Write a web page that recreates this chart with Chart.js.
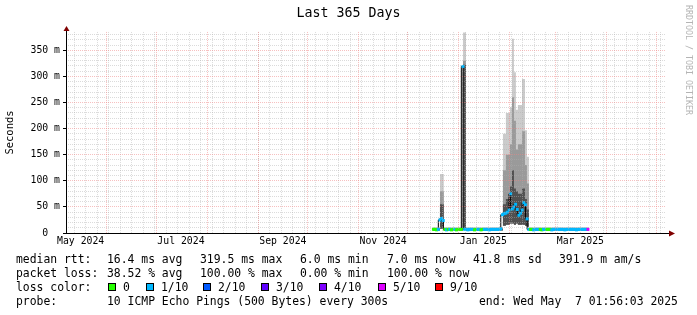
<!DOCTYPE html>
<html>
<head>
<meta charset="utf-8">
<script src="https://cdn.jsdelivr.net/npm/chart.js@4.4.1/dist/chart.umd.min.js"></script>
<style>
  html, body { margin: 0; padding: 0; background: #fff; }
  #wrap { position: relative; width: 697px; height: 315px; overflow: hidden; font-family: "DejaVu Sans Mono", monospace; }
  #wrap canvas { position: absolute; left: 0; top: 0; }
  .t { position: absolute; white-space: pre; font-size: 11.4px; line-height: 11.4px; color: #000; }
  .box { position: absolute; width: 6px; height: 6px; border: 1px solid #000; }
  #brand { position: absolute; left: 684px; top: 5px; writing-mode: vertical-rl; font-size: 8.3px; line-height: 10px; color: #b4b4b4; }
</style>
</head>
<body>
<div id="wrap">
  <canvas id="chart" width="697" height="315"></canvas>
  <div id="brand">RRDTOOL / TOBI OETIKER</div>
</div>
<script>
// time axis: 365 days ending Wed May 7 01:56:03 2025, x in days since start
const startMs = Date.UTC(2024, 4, 7, 1, 56, 3);
const spanDays = 365;
const dayOf = (y, m, d) => (Date.UTC(y, m, d) - startMs) / 864e5;

// median rtt, one value per day starting at dayStart (ms)
const dayStart = 223.5;
const medianMs = [
  7, 7, 6, 7,
  25, 28, 24,
  7, 6, 7, 7, 6, 7, 7, 6, 7, 7, 7,
  319,
  7, 7, 6, 7, 7, 7, 6, 7, 7, 7, 6, 7, 7, 7, 7, 6, 7, 7, 7, 7, 7, 7, 8,
  35, 37, 38, 40, 44, 75, 46, 50, 55, 45, 34, 38, 44, 58, 54, 27,
  7, 7, 7, 6, 7, 7, 7, 7, 6, 7, 7, 7, 7, 7, 6, 7, 7, 7, 7, 7,
  7, 7, 6, 7, 7, 7, 7, 7, 7, 6, 7, 7, 7, 7, 7, 7, 7
];
// packet loss per day, in tenths
const lossTenths = [
  0, 0, 0, 1,
  1, 1, 1,
  0, 1, 0, 1, 0, 0, 1, 0, 0, 0, 0,
  1,
  1, 1, 1, 1, 1, 1, 0, 0, 1, 1, 0, 0, 1, 1, 1, 1, 1, 1, 1, 1, 1, 1, 1,
  1, 1, 1, 1, 1, 1, 1, 1, 1, 1, 1, 1, 1, 1, 1, 1,
  1, 0, 0, 1, 1, 1, 1, 0, 0, 1, 1, 0, 0, 0, 1, 1, 1, 1, 1, 1,
  1, 1, 1, 1, 1, 1, 1, 1, 1, 1, 1, 1, 1, 1, 1, 1, 5
];

// smoke bands: value holds from smokeDays[i] until smokeDays[i + 1] (ms)
const smokeDays = [223.2, 227.5, 229.8, 241.5, 243.3, 265.8, 267.6, 270.1, 271.3, 272.5, 273.7, 274.9, 277.4, 279.2, 280.4, 281.6, 318.1];
const smokeMin  = [5,   8,   5,   8,   5,  14,  16,  18,  18,  16,  18,  16,  16,  14,  12,   5];
const smokeDark = [8,  55,   8, 322,   8,  55,  65,  90, 120,  85,  80,  75,  85,  65,  45,   8];
const smokeMid  = [9,  80,   9, 330,   9, 120, 150, 170, 260, 215, 160, 170, 195, 130,  95,   9];
const smokeMax  = [11, 113, 11, 384,  11, 190, 230, 241, 372, 308, 236, 245, 295, 197, 146,  11];

const lossSteps  = [0, 1, 2, 3, 4, 5, 9];
const lossLabels = ['0', '1/10', '2/10', '3/10', '4/10', '5/10', '9/10'];
const lossColors = ['#26ff00', '#00b8ff', '#0059ff', '#5e00ff', '#7e00ff', '#dd00ff', '#ff0000'];

const monthLabels = ['May 2024', 'Jul 2024', 'Sep 2024', 'Nov 2024', 'Jan 2025', 'Mar 2025'];
const monthLabelDays = [dayOf(2024, 4, 16), dayOf(2024, 6, 16), dayOf(2024, 8, 16), dayOf(2024, 10, 16), dayOf(2025, 0, 16), dayOf(2025, 2, 16)];
const yTickMs = [0, 50, 100, 150, 200, 250, 300, 350];
const yMax = 385;

const statRows = [
  ['median rtt:', '16.4 ms avg', '319.5 ms max', '6.0 ms min', '7.0 ms now', '41.8 ms sd', '391.9 m am/s'],
  ['packet loss:', '38.52 % avg', '100.00 % max', '0.00 % min', '100.00 % now'],
  ['loss color:'],
  ['probe:', '10 ICMP Echo Pings (500 Bytes) every 300s', 'end: Wed May  7 01:56:03 2025']
];

// grid positions: month starts (major) and Sundays (minor)
const monthStarts = [];
for (let m = 5; m < 17; m++) monthStarts.push(dayOf(2024, m, 1));
const weekStarts = [];
for (let d = dayOf(2024, 4, 12); d < spanDays; d += 7) weekStarts.push(d);
const yMinor = [], yMajor = [];
for (let v = 10; v < yMax; v += 10) (v % 50 ? yMinor : yMajor).push(v);

const FONT = '"DejaVu Sans Mono", monospace';
const colorOf = l => lossColors[lossSteps.indexOf(l)];
// each band value becomes a flat step from its day to the next breakpoint
const stepPts = ys => ys.flatMap((v, i) => [{ x: smokeDays[i], y: v }, { x: smokeDays[i + 1], y: v }]);

const smokeSet = (label, ys, color, order) => ({
  label, order, data: stepPts(ys),
  borderWidth: 0, borderColor: 'rgba(0,0,0,0)', pointRadius: 0,
  backgroundColor: color, fill: 1
});

const gridAxis = (axis, ticks, color, z) => ({
  type: 'linear', axis, position: axis === 'x' ? 'bottom' : 'left',
  min: 0, max: axis === 'x' ? spanDays : yMax,
  afterBuildTicks: s => { s.ticks = ticks.map(v => ({ value: v })); },
  afterFit: s => { if (axis === 'x') s.height = 0; else s.width = 0; },
  ticks: { display: false },
  grid: { color, drawTicks: false, lineWidth: 1, z },
  border: { display: false, dash: [1, 1] }
});

const axisArrows = {
  id: 'axisArrows',
  afterDraw(chart) {
    const { ctx, chartArea: a } = chart;
    const x0 = a.left + 0.5, y0 = a.bottom + 0.5;
    ctx.save();
    ctx.strokeStyle = '#000';
    ctx.lineWidth = 1;
    ctx.beginPath();
    ctx.moveTo(x0, a.top); ctx.lineTo(x0, a.top - 2);
    ctx.moveTo(a.right, y0); ctx.lineTo(a.right + 4, y0);
    ctx.stroke();
    ctx.fillStyle = '#800000';
    ctx.beginPath();
    ctx.moveTo(x0, a.top - 6); ctx.lineTo(x0 - 3, a.top - 1); ctx.lineTo(x0 + 3, a.top - 1);
    ctx.fill();
    ctx.beginPath();
    ctx.moveTo(a.right + 9, y0); ctx.lineTo(a.right + 3, y0 - 3); ctx.lineTo(a.right + 3, y0 + 3);
    ctx.fill();
    ctx.restore();
  }
};

new Chart(document.getElementById('chart'), {
  type: 'line',
  data: {
    datasets: [
      {
        label: 'median', order: 1,
        data: medianMs.map((v, i) => ({ x: dayStart + i, y: v })),
        stepped: 'after', borderColor: '#000', borderWidth: 1, fill: false,
        pointStyle: 'rect', pointRadius: 2.1, pointBorderWidth: 0,
        pointBackgroundColor: lossTenths.map(colorOf)
      },
      {
        label: 'min', order: 5, data: stepPts(smokeMin),
        borderWidth: 0, borderColor: 'rgba(0,0,0,0)', pointRadius: 0, fill: false
      },
      smokeSet('max', smokeMax, '#cbcbcb', 4),
      smokeSet('mid', smokeMid, '#9a9a9a', 3),
      smokeSet('dark', smokeDark, '#505050', 2)
    ]
  },
  options: {
    responsive: false,
    animation: false,
    devicePixelRatio: 1,
    elements: { line: { tension: 0 } },
    layout: { padding: 0 },
    plugins: {
      legend: { display: false },
      tooltip: { enabled: false },
      title: {
        display: true, text: 'Last 365 Days', color: '#000',
        font: { family: FONT, size: 13.3, weight: 'normal' },
        padding: { top: 6, bottom: 10 }
      }
    },
    scales: {
      xMinor: gridAxis('x', weekStarts, 'rgba(175,175,175,0.45)', 1),
      yMinor: gridAxis('y', yMinor, 'rgba(175,175,175,0.45)', 1),
      xMajor: gridAxis('x', monthStarts, 'rgba(240,130,130,0.5)', 2),
      yMajor: gridAxis('y', yMajor, 'rgba(240,130,130,0.5)', 2),
      x: {
        type: 'linear', position: 'bottom', min: 0, max: spanDays,
        afterBuildTicks: s => { s.ticks = monthLabelDays.map(v => ({ value: v })); },
        afterFit: s => { s.height = 82; },
        ticks: {
          callback: v => monthLabels[monthLabelDays.indexOf(v)],
          font: { family: FONT, size: 9.8 }, color: '#000',
          padding: 3, maxRotation: 0, autoSkip: false
        },
        grid: { display: true, drawOnChartArea: false, drawTicks: false },
        border: { display: true, color: '#000', z: 3 }
      },
      y: {
        type: 'linear', position: 'left', min: 0, max: yMax,
        afterBuildTicks: s => { s.ticks = yTickMs.map(v => ({ value: v })); },
        afterFit: s => { s.width = 66; },
        ticks: {
          callback: v => (v === 0 ? '0  ' : v + ' m'),
          font: { family: FONT, size: 9.8 }, color: '#000', padding: 3
        },
        grid: { drawOnChartArea: false, tickLength: 3, tickColor: '#000' },
        border: { display: true, color: '#000', z: 3 },
        title: {
          display: true, text: 'Seconds', color: '#000',
          font: { family: FONT, size: 10.5 }, padding: { top: 4, bottom: 0 }
        }
      },
      // empty right margin so the title centres on the full image
      yRight: {
        type: 'linear', position: 'right', min: 0, max: yMax,
        afterFit: s => { s.width = 31; },
        ticks: { display: false },
        grid: { display: false },
        border: { display: false }
      }
    }
  },
  plugins: [axisArrows]
});

// text block under the graph
const wrap = document.getElementById('wrap');
const colX = [16, 107, 200, 300, 387, 473, 559];
const rowTop = [254, 268, 282, 296];
const addText = (txt, x, y) => {
  const el = document.createElement('div');
  el.className = 't';
  el.style.left = x + 'px';
  el.style.top = y + 'px';
  el.textContent = txt;
  wrap.appendChild(el);
};
statRows.forEach((row, r) => {
  if (r === 3) {
    addText(row[0], colX[0], rowTop[r]);
    addText(row[1], colX[1], rowTop[r]);
    addText(row[2], 479, rowTop[r]);
  } else {
    row.forEach((txt, c) => addText(txt, colX[c], rowTop[r]));
  }
});
const boxX = [108, 146, 203, 261, 319, 378, 435];
lossLabels.forEach((lab, i) => {
  const b = document.createElement('div');
  b.className = 'box';
  b.style.left = boxX[i] + 'px';
  b.style.top = '283px';
  b.style.background = lossColors[i];
  wrap.appendChild(b);
  addText(lab, boxX[i] + 15, rowTop[2]);
});
</script>
</body>
</html>
